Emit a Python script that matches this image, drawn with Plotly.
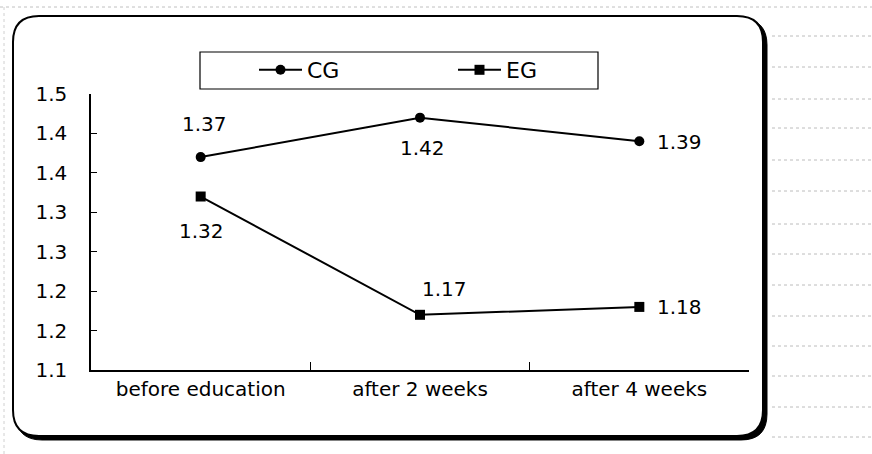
import plotly.graph_objects as go

# ---- data ----
categories = ["before education", "after 2 weeks", "after 4 weeks"]
cg_values = [1.37, 1.42, 1.39]
eg_values = [1.32, 1.17, 1.18]
y_tickvals = [1.10, 1.15, 1.20, 1.25, 1.30, 1.35, 1.40, 1.45]
y_ticktext = ["1.1", "1.2", "1.2", "1.3", "1.3", "1.4", "1.4", "1.5"]

W, H = 872, 454
L, R, T, B = 91, 123, 94, 84
PW, PH = W - L - R, H - T - B
FONT = "DejaVu Sans"


def px(x):
    return (x - L) / PW


def py(y):
    return (H - B - y) / PH


def rrect(x0, y0, x1, y1, r):
    pts = [
        ("M", [(x0 + r, y0)]), ("L", [(x1 - r, y0)]), ("Q", [(x1, y0), (x1, y0 + r)]),
        ("L", [(x1, y1 - r)]), ("Q", [(x1, y1), (x1 - r, y1)]), ("L", [(x0 + r, y1)]),
        ("Q", [(x0, y1), (x0, y1 - r)]), ("L", [(x0, y0 + r)]), ("Q", [(x0, y0), (x0 + r, y0)]),
    ]
    s = ""
    for cmd, ps in pts:
        s += cmd + " ".join(f"{px(a):.5f},{py(b):.5f}" for a, b in ps) + " "
    return s + "Z"


fig = go.Figure()
fig.add_trace(go.Scatter(
    x=categories, y=cg_values, name="CG", mode="lines+markers",
    line=dict(color="black", width=2),
    marker=dict(symbol="circle", size=10, color="black"),
))
fig.add_trace(go.Scatter(
    x=categories, y=eg_values, name="EG", mode="lines+markers",
    line=dict(color="black", width=2),
    marker=dict(symbol="square", size=10, color="black"),
))

# data labels (offsets are styling)
cg_off = [(4, 33, "center"), (2, -30, "center"), (16, -1, "left")]
eg_off = [(1, -34, "center"), (24, 26, "center"), (16, 0, "left")]
annotations = []
for vals, offs in ((cg_values, cg_off), (eg_values, eg_off)):
    for c, v, (dx, dy, anc) in zip(categories, vals, offs):
        annotations.append(dict(
            x=c, y=v, xref="x", yref="y", text=f"{v:.2f}", showarrow=False,
            xshift=dx, yshift=dy, xanchor=anc, yanchor="middle",
            font=dict(family=FONT, size=20, color="black"),
        ))

shapes = []
# faint background grid artifacts
shapes.append(dict(type="line", xref="paper", yref="paper", x0=px(0), x1=px(W), y0=py(7), y1=py(7),
                   line=dict(color="#c0c0c0", width=1, dash="dot"), layer="below"))
shapes.append(dict(type="line", xref="paper", yref="paper", x0=px(4), x1=px(4), y0=py(7), y1=py(454),
                   line=dict(color="#d0d0d0", width=1, dash="dot"), layer="below"))
for yy in [36, 67, 99, 128, 160, 191, 224, 254, 285, 316, 346, 376, 407, 437]:
    shapes.append(dict(type="line", xref="paper", yref="paper", x0=px(772), x1=px(W), y0=py(yy), y1=py(yy),
                       line=dict(color="#bcbcbc", width=1, dash="dot"), layer="below"))
# frame shadow and frame
shapes.append(dict(type="path", xref="paper", yref="paper", path=rrect(16, 19, 767, 440, 26),
                   fillcolor="black", line=dict(color="black", width=1), layer="below"))
shapes.append(dict(type="path", xref="paper", yref="paper", path=rrect(13, 16, 763, 436, 26),
                   fillcolor="white", line=dict(color="black", width=2), layer="below"))
# legend box
shapes.append(dict(type="rect", xref="paper", yref="paper", x0=px(200), x1=px(598), y0=py(52), y1=py(89),
                   fillcolor="white", line=dict(color="black", width=1.2), layer="below"))

fig.update_layout(
    width=W, height=H,
    margin=dict(l=L, r=R, t=T, b=B, autoexpand=False),
    paper_bgcolor="white", plot_bgcolor="rgba(0,0,0,0)",
    font=dict(family=FONT, size=20, color="black"),
    showlegend=True,
    legend=dict(
        orientation="h", x=px(254), xanchor="left", y=py(70), yanchor="middle",
        bgcolor="rgba(0,0,0,0)", borderwidth=0, itemwidth=43,
        entrywidth=141, entrywidthmode="pixels",
        font=dict(family=FONT, size=22, color="black"), itemclick=False,
    ),
    xaxis=dict(
        range=[-0.5, 2.5], showgrid=False, zeroline=False, showline=True,
        linecolor="black", linewidth=2, ticks="inside", ticklen=8, tickwidth=1,
        tickcolor="black", tickson="boundaries", ticklabelstandoff=0,
        tickfont=dict(family=FONT, size=20, color="black"),
    ),
    yaxis=dict(
        range=[1.1, 1.45], showgrid=False, zeroline=False, showline=True,
        linecolor="black", linewidth=1.5, ticks="inside", ticklen=6, tickwidth=1,
        tickcolor="black", tickvals=y_tickvals, ticktext=y_ticktext,
        ticklabelstandoff=18, tickfont=dict(family=FONT, size=20, color="black"),
    ),
    shapes=shapes, annotations=annotations,
)

fig.write_html(
    "out.html",
    config={"displayModeBar": False},
    post_script="document.body.style.margin='0';document.body.style.overflow='hidden';",
)
